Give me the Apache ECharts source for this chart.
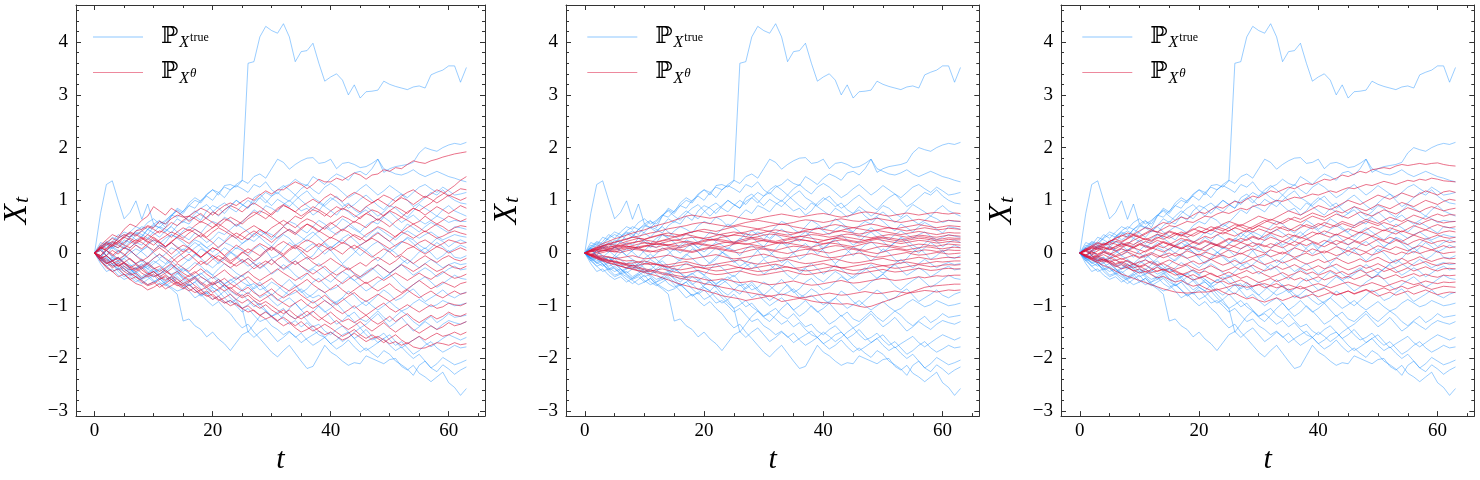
<!DOCTYPE html>
<html lang="en">
<head>
<meta charset="UTF-8">
<title>X_t paths</title>
<script src="https://cdn.jsdelivr.net/npm/echarts@6/dist/echarts.min.js"></script>
<style>
    html, body { margin: 0; padding: 0; background: #fff; }
    #main { width: 1480px; height: 480px; }
</style>
</head>
<body>
<div id="main"></div>
<script>
// time steps
var T = [0,1,2,3,4,5,6,7,8,9,10,11,12,13,14,15,16,17,18,19,20,21,22,23,24,25,26,27,28,29,30,31,
    32,33,34,35,36,37,38,39,40,41,42,43,44,45,46,47,48,49,50,51,52,53,54,55,56,57,58,59,60,61,62,63];

var xTicks = [0, 20, 40, 60];
var xMinorTicks = [0, 5, 10, 15, 20, 25, 30, 35, 40, 45, 50, 55, 60, 65];
var yTicks = [-3, -2, -1, 0, 1, 2, 3, 4];
var yMinorTicks = [-3,-2.8,-2.6,-2.4,-2.2,-2,-1.8,-1.6,-1.4,-1.2,-1,-0.8,-0.6,-0.4,-0.2,0,0.2,0.4,0.6,0.8,
    1,1.2,1.4,1.6,1.8,2,2.2,2.4,2.6,2.8,3,3.2,3.4,3.6,3.8,4,4.2,4.4,4.6];

// true paths (same in all three panels)
var trueX = [
    [0,.75,1.3,1.37,1,.65,.77,.99, .64,.93,.55,.62,.48,.7,.85,.78, .95,1.05,.98,1.12,1.2,1.1,1.28,1.3,
     1.25,1.37,3.6,3.63,4.1,4.3,4.22,4.17, 4.35,4.1,3.63,3.82,3.84,3.98,3.6,3.26, 3.34,3.4,3.28,3,3.19,2.94,3.06,3.07,
     3.09,3.26,3.2,3.16,3.13,3.1,3.15,3.17, 3.13,3.38,3.43,3.47,3.55,3.55,3.24,3.52],
    [0,.1,-.05,.12,.2,.15,.3,.38, .3,.45,.52,.48,.6,.72,.68,.8, .9,.85,1,1.08,1,1.15,1.25,1.2,
     1.3,1.38,1.32,1.45,1.5,1.42,1.6,1.78, 1.72,1.59,1.68,1.75,1.8,1.81,1.7,1.72, 1.78,1.6,1.7,1.72,1.68,1.62,1.64,1.7,
     1.78,1.53,1.6,1.64,1.66,1.68,1.72,1.9, 2,1.96,1.93,2,2.05,2.08,2.06,2.1],
    [0,-.1,.05,.15,.1,.25,.2,.35, .42,.35,.5,.6,.55,.7,.82,.75, .9,1,.95,1.1,1.2,1.15,1.05,1.2,
     1.28,1.22,1.15,1.3,1.25,1.35,1.2,1.12, 1.25,1.3,1.4,1.32,1.28,1.45,1.38,1.3, 1.42,1.5,1.45,1.38,1.52,1.55,1.48,1.6,
     1.78,1.6,1.55,1.5,1.48,1.52,1.58,1.5, 1.45,1.5,1.55,1.5,1.45,1.42,1.38,1.35],
    [0,.2,.15,.3,.25,.18,.32,.4, .35,.28,.4,.5,.45,.38,.52,.6, .55,.7,.62,.8,.9,.85,.75,.88,
     1,.92,.85,1.05,1.12,1,.9,1.02, .95,.88,1,1.1,1.18,1.05,.98,.9, 1,1.08,.95,.85,.92,1.02,1.1,1,
     .9,.82,.95,1.05,1.12,1,.88,.95, 1.05,1.15,1.1,1.2,1.08,1,.95,.93],
    [0,-.08,.05,.12,.05,-.05,.1,.2, .15,.28,.22,.1,.2,.35,.3,.42, .5,.45,.38,.52,.6,.55,.68,.62,
     .5,.58,.7,.82,.75,.9,.85,.78, .92,1,.9,.8,.85,.72,.8,.95, 1.05,.98,.88,.95,.82,.75,.88,.8,
     .7,.78,.9,.85,.75,.68,.8,.92, .85,.78,.7,.82,.9,.8,.75,.7],
    [0,.12,.22,.18,.3,.4,.35,.25, .32,.45,.38,.3,.42,.5,.4,.32, .25,.38,.3,.2,.28,.4,.35,.45,
     .55,.48,.4,.3,.42,.35,.25,.38, .5,.6,.55,.45,.38,.5,.62,.55, .45,.52,.65,.58,.48,.4,.52,.6,
     .55,.68,.6,.5,.42,.55,.48,.4, .5,.58,.52,.45,.38,.5,.48,.45],
    [0,-.1,-.18,-.12,-.2,-.1,0,.08, .02,-.08,.05,.15,.1,.2,.12,.05, .15,.25,.2,.1,.18,.3,.22,.35,
     .28,.18,.25,.38,.3,.2,.12,.25, .35,.28,.15,.22,.32,.4,.3,.2, .1,.18,.28,.35,.25,.15,.22,.32,
     .4,.3,.22,.12,.2,.3,.25,.15, .08,.18,.28,.22,.12,.2,.25,.2],
    [0,.05,.15,.08,.18,.1,.22,.15, .05,.12,0,-.1,-.02,.1,.05,-.08, -.15,-.05,.08,.02,-.1,-.2,-.12,0,
     .1,.05,-.05,.08,.15,.05,-.1,-.05, .08,.2,.12,0,-.12,-.05,.1,.18, .05,-.08,-.2,-.1,0,.12,.05,-.05,
     -.15,-.05,.08,0,-.12,-.2,-.1,.02, .1,0,-.12,-.05,.05,-.08,-.1,-.05],
    [0,-.15,-.1,-.22,-.3,-.25,-.35,-.28, -.2,-.3,-.38,-.32,-.22,-.15,-.25,-.35, -.28,-.18,-.25,-.35,-.42,-.3,-.2,-.28,
     -.38,-.45,-.35,-.25,-.18,-.28,-.4,-.32, -.22,-.3,-.42,-.5,-.4,-.3,-.38,-.48, -.55,-.45,-.35,-.42,-.52,-.45,-.35,-.28,
     -.38,-.48,-.4,-.3,-.22,-.32,-.42,-.35, -.28,-.35,-.45,-.38,-.3,-.25,-.32,-.3],
    [0,.08,-.05,-.15,-.08,-.2,-.3,-.4, -.48,-.42,-.35,-.45,-.55,-.5,-.4,-.3, -.38,-.5,-.6,-.52,-.45,-.55,-.65,-.58,
     -.5,-.42,-.55,-.68,-.6,-.72,-.8,-.7, -.6,-.5,-.62,-.75,-.68,-.55,-.48,-.6, -.7,-.65,-.55,-.45,-.52,-.62,-.72,-.65,
     -.55,-.48,-.4,-.5,-.62,-.7,-.6,-.52, -.45,-.55,-.65,-.58,-.5,-.42,-.48,-.5],
    [0,-.2,-.35,-.3,-.42,-.5,-.45,-.55, -.48,-.4,-.52,-.6,-.55,-.45,-.38,-.5, -.62,-.55,-.45,-.52,-.65,-.72,-.6,-.5,
     -.58,-.7,-.78,-.65,-.55,-.68,-.8,-.9, -.82,-.7,-.6,-.72,-.85,-.78,-.68,-.75, -.88,-.95,-.85,-.72,-.8,-.92,-1,-.9,
     -.8,-.7,-.78,-.9,-.85,-.75,-.68,-.8, -.92,-.85,-.78,-.7,-.8,-.85,-.78,-.74],
    [0,-.1,-.05,-.15,-.25,-.2,-.3,-.38, -.3,-.2,-.28,-.4,-.35,-.25,-.35,-.48, -.55,-.45,-.58,-.7,-.62,-.5,-.6,-.72,
     -.8,-.7,-.6,-.72,-.85,-.78,-.9,-1, -.92,-.85,-.95,-1.08,-1,-.9,-1.02,-1.12, -1.05,-.95,-1.08,-1.2,-1.12,-1.25,-1.3,-1.2,
     -1.1,-1.22,-1.3,-1.2,-1.1,-1.18,-1.3,-1.38, -1.28,-1.2,-1.32,-1.25,-1.15,-1.22,-1.2,-1.18],
    [0,-.1,-.2,-.15,-.28,-.35,-.3,-.42, -.5,-.45,-.55,-.48,-.6,-.68,-.78,-1.29, -1.25,-1.38,-1.45,-1.59,-1.5,-1.63,-1.72,-1.85,
     -1.7,-1.55,-1.49,-1.6,-1.5,-1.42,-1.55,-1.68, -1.6,-1.5,-1.58,-1.7,-1.62,-1.55,-1.48,-1.6, -1.72,-1.65,-1.55,-1.5,-1.62,-1.75,-1.85,-1.78,
     -1.7,-1.62,-1.55,-1.68,-1.8,-1.72,-1.65,-1.58, -1.7,-1.78,-1.7,-1.62,-1.55,-1.6,-1.65,-1.6],
    [0,-.15,-.25,-.2,-.35,-.45,-.4,-.5, -.58,-.5,-.42,-.55,-.62,-.55,-.48,-.6, -.72,-.85,-.78,-.9,-1,-.92,-1.05,-1.15,
     -1.3,-1.42,-1.35,-1.5,-1.62,-1.75,-1.88,-1.97, -1.85,-1.75,-1.9,-2.05,-2.19,-2.15,-1.95,-1.75, -1.88,-1.95,-2.05,-2.13,-2.08,-2.1,-1.95,-2,
     -2.05,-2.1,-2.02,-2,-2.15,-2.22,-2.13,-2.28, -2.35,-2.44,-2.35,-2.26,-2.46,-2.55,-2.7,-2.57],
    [0,.05,-.05,-.12,-.08,-.18,-.25,-.2, -.15,-.25,-.35,-.3,-.4,-.5,-.45,-.55, -.62,-.55,-.68,-.78,-.7,-.82,-.95,-.9,
     -1,-1.12,-1.05,-1.18,-1.3,-1.25,-1.38,-1.45, -1.55,-1.48,-1.6,-1.52,-1.65,-1.75,-1.68,-1.6, -1.72,-1.82,-1.75,-1.65,-1.78,-1.88,-1.8,-1.9,
     -1.98,-1.85,-1.92,-2.05,-2.12,-2.2,-2.32,-2.13, -2.05,-2.18,-2.1,-1.98,-2.05,-2.12,-2.08,-2.03],
    [0,-.12,-.08,-.2,-.32,-.28,-.4,-.35, -.45,-.38,-.3,-.42,-.5,-.45,-.58,-.65, -.58,-.7,-.8,-.75,-.88,-.82,-.72,-.85,
     -.95,-1.05,-.98,-.9,-1.02,-1.1,-1.2,-1.12, -1.05,-1.18,-1.25,-1.15,-1.28,-1.4,-1.35,-1.48, -1.55,-1.45,-1.38,-1.5,-1.62,-1.55,-1.45,-1.58,
     -1.7,-1.62,-1.75,-1.85,-1.78,-1.9,-2,-1.92, -2.05,-2.18,-2.25,-2.12,-2.2,-2.3,-2.22,-2.16],
    [0,.1,.05,-.05,-.15,-.1,-.22,-.3, -.25,-.35,-.45,-.4,-.3,-.22,-.32,-.42, -.5,-.45,-.38,-.48,-.6,-.55,-.65,-.78,
     -.9,-1.05,-1.5,-1.35,-1.2,-1.1,-1.22,-1.3, -1.18,-1.05,-.95,-1.08,-1.2,-1.12,-1,-1.1, -1.22,-1.35,-1.28,-1.18,-1.3,-1.42,-1.35,-1.25,
     -1.15,-1.28,-1.4,-1.32,-1.22,-1.35,-1.48,-1.4, -1.3,-1.38,-1.45,-1.35,-1.28,-1.32,-1.35,-1.3],
    [0,-.08,-.18,-.25,-.18,-.3,-.38,-.45, -.52,-.6,-.55,-.48,-.58,-.65,-.72,-.68, -.6,-.7,-.82,-.75,-.65,-.72,-.85,-.95,
     -.88,-.78,-.9,-1.02,-.95,-1.08,-1.2,-1.15, -1.25,-1.35,-1.28,-1.4,-1.32,-1.45,-1.55,-1.6, -1.5,-1.58,-1.68,-1.6,-1.5,-1.42,-1.55,-1.65,
     -1.6,-1.52,-1.65,-1.75,-1.68,-1.8,-1.92,-1.85, -1.75,-1.68,-1.8,-1.88,-1.82,-1.75,-1.8,-1.78],
    [0,.1,.2,.15,.28,.35,.3,.42, .5,.45,.55,.48,.4,.52,.65,.58, .7,.8,.72,.65,.78,.88,.95,.85,
     .78,.9,1,.92,1.05,1.15,1.08,1.2, 1.28,1.2,1.1,1.22,1.3,1.2,1.12,1.25, 1.32,1.25,1.15,1.05,1.12,1.22,1.3,1.2,
     1.1,1.18,1.28,1.2,1.12,1.05,1.15,1.25, 1.3,1.22,1.15,1.25,1.18,1.1,1.12,1.15],
    [0,-.05,-.15,-.08,.02,.1,.05,-.05, -.12,-.2,-.1,-.02,-.12,-.22,-.3,-.22, -.12,-.02,-.1,-.2,-.28,-.18,-.08,.02,
     -.05,-.15,-.25,-.18,-.08,.05,.12,.02, -.08,-.18,-.1,0,.1,.18,.08,-.02, .08,.18,.25,.15,.05,-.05,.05,.15,
     .22,.12,.02,.1,.2,.28,.18,.08, 0,.1,.2,.12,.02,.08,.15,.1],
    [0,.15,.1,.22,.35,.28,.4,.5, .45,.58,.65,.55,.62,.72,.8,.7, .62,.75,.85,.92,.8,.7,.82,.9,
     1,.92,.85,.98,1.05,.95,1.08,1.15, 1.05,.98,1.1,1,.9,.82,.95,.88, .8,.72,.85,.78,.68,.75,.82,.7,
     .62,.7,.78,.68,.58,.65,.72,.62, .55,.62,.7,.65,.58,.62,.6,.6],
    [0,-.05,.05,-.08,-.15,-.05,-.12,-.22, -.3,-.25,-.15,-.22,-.32,-.4,-.35,-.28, -.38,-.45,-.4,-.32,-.42,-.5,-.58,-.52,
     -.45,-.55,-.62,-.58,-.7,-.65,-.55,-.62, -.72,-.8,-.75,-.68,-.78,-.85,-.8,-.9, -.98,-.92,-.85,-.95,-1.05,-.98,-.9,-1,
     -1.08,-1,-.92,-1.02,-1.1,-1.05,-.95,-.88, -.95,-1.02,-.98,-.9,-.95,-1,-.98,-.95],
    [0,-.12,-.25,-.35,-.3,-.42,-.38,-.3, -.22,-.3,-.2,-.12,-.2,-.1,-.02,.08, 0,.1,.18,.1,.02,.12,.2,.15,
     .08,.18,.28,.22,.32,.4,.35,.28, .38,.45,.38,.3,.22,.32,.42,.5, .42,.35,.45,.52,.45,.38,.3,.4,
     .48,.4,.32,.25,.35,.42,.35,.28, .35,.4,.32,.25,.3,.35,.32,.3],
    [0,.08,.18,.1,.02,.12,.05,-.05, .05,.15,.25,.18,.28,.35,.28,.2, .1,.2,.12,.02,-.08,0,.1,.02,
     -.08,-.18,-.1,-.2,-.3,-.22,-.12,-.22, -.32,-.25,-.15,-.25,-.35,-.28,-.2,-.3, -.4,-.32,-.22,-.3,-.4,-.48,-.4,-.32,
     -.22,-.3,-.38,-.3,-.2,-.12,-.2,-.28, -.2,-.12,-.2,-.28,-.22,-.18,-.22,-.2]
];

// model paths, left panel
var modelX1 = [
    [0,.12,.2,.15,.28,.35,.3,.42, .45,.52,.48,.6,.55,.65,.72,.68, .7,.78,.85,.8,.72,.82,.9,.95,
     .9,.98,1.05,1,1.1,1.18,1.12,1.2, 1.2,1.28,1.35,1.3,1.22,1.3,1.4,1.35, 1.35,1.42,1.38,1.45,1.52,1.48,1.4,1.48,
     1.5,1.58,1.55,1.62,1.6,1.68,1.75,1.72, 1.7,1.75,1.78,1.82,1.85,1.88,1.9,1.92],
    [0,.08,.15,.22,.18,.3,.38,.32, .42,.5,.45,.38,.48,.58,.52,.62, .7,.65,.58,.68,.78,.72,.82,.9,
     .85,.78,.88,.95,.88,.8,.72,.82, .9,.85,.78,.7,.78,.88,.82,.75, .68,.78,.85,.8,.72,.65,.75,.82,
     .78,.7,.8,.88,.82,.75,.85,.8, .88,.95,1.05,1.12,1.2,1.28,1.38,1.45],
    [0,-.05,.08,.15,.1,.2,.28,.22, .3,.25,.35,.42,.38,.3,.4,.48, .42,.52,.6,.55,.48,.58,.65,.6,
     .52,.6,.7,.78,.72,.65,.75,.85, .92,.85,.78,.88,.95,1.02,.95,1.05, 1.12,1.05,.98,1.08,1.15,1.1,1.02,.95,
     1.02,1.1,1.05,.98,1.08,1.15,1.2,1.12, 1.05,1.12,1.2,1.15,1.08,1.15,1.22,1.2],
    [0,.15,.25,.35,.3,.45,.55,.5, .62,.7,.88,.8,.72,.85,.78,.7, .6,.68,.75,.65,.58,.5,.6,.68,
     .62,.55,.65,.72,.8,.75,.68,.6, .52,.6,.7,.65,.75,.82,.78,.7, .8,.88,.82,.92,.85,.78,.88,.95,
     1.02,.95,.88,.98,1.05,1,.92,1, 1.08,1.02,.95,1.02,1.1,1.05,1,1.05],
    [0,.1,.05,.15,.22,.15,.1,.2, .28,.22,.15,.25,.32,.4,.35,.28, .38,.45,.38,.3,.4,.48,.42,.35,
     .28,.38,.45,.52,.45,.38,.48,.55, .62,.55,.48,.58,.65,.6,.52,.45, .55,.62,.7,.65,.58,.68,.75,.7,
     .62,.72,.8,.75,.68,.78,.85,.8, .72,.8,.88,.82,.75,.82,.9,.85],
    [0,-.1,-.05,.05,-.02,.1,.05,.15, .08,.18,.25,.2,.12,.2,.3,.25, .18,.28,.35,.28,.2,.1,.2,.3,
     .38,.32,.25,.35,.45,.38,.3,.4, .5,.42,.35,.45,.55,.48,.4,.5, .58,.5,.42,.52,.6,.55,.48,.58,
     .65,.58,.5,.6,.68,.62,.55,.6, .7,.62,.55,.62,.7,.65,.6,.65],
    [0,.08,.18,.12,.22,.3,.25,.18, .25,.35,.28,.2,.12,.22,.3,.38, .45,.38,.3,.4,.48,.55,.48,.4,
     .32,.25,.35,.42,.35,.28,.2,.3, .38,.45,.38,.48,.55,.5,.42,.35, .28,.38,.45,.4,.32,.25,.35,.42,
     .5,.45,.38,.3,.4,.48,.55,.48, .4,.48,.55,.5,.42,.48,.52,.5],
    [0,-.12,-.2,-.15,-.25,-.18,-.1,-.2, -.28,-.2,-.1,-.02,-.1,-.18,-.08,0, .08,0,-.08,.02,.1,.05,-.05,.05,
     .15,.08,0,.1,.18,.12,.05,.15, .22,.15,.08,.18,.25,.2,.12,.22, .3,.25,.18,.28,.35,.3,.22,.3,
     .38,.3,.22,.32,.4,.35,.28,.35, .42,.35,.28,.32,.38,.42,.38,.35],
    [0,-.08,-.18,-.28,-.22,-.35,-.42,-.38, -.48,-.42,-.35,-.45,-.38,-.3,-.2,-.28, -.35,-.25,-.15,-.22,-.12,-.05,-.12,-.2,
     -.1,0,.08,.02,-.05,.05,.12,.05, -.02,.08,.15,.1,.02,.1,.18,.12, .05,.12,.2,.15,.08,.15,.22,.28,
     .22,.15,.08,.15,.22,.18,.12,.2, .25,.18,.12,.18,.25,.22,.18,.2],
    [0,.12,.08,.2,.15,.08,.18,.25, .2,.12,.05,.15,.08,-.02,.08,.15, .1,.02,-.08,0,.1,.05,-.05,-.15,
     -.08,.02,-.05,-.15,-.08,.02,.1,.02, -.05,.05,.12,.05,-.05,-.12,-.05,.05, .12,.05,-.02,.08,.15,.08,0,-.08,
     0,.08,.02,-.08,-.02,.08,.12,.05, -.02,.05,.12,.08,0,.05,.1,.05],
    [0,-.05,.05,-.02,-.12,-.05,.05,-.05, -.15,-.08,.02,.1,.02,-.08,-.18,-.1, -.02,-.12,-.22,-.15,-.05,-.12,-.2,-.28,
     -.2,-.12,-.2,-.3,-.22,-.15,-.22,-.12, -.05,-.15,-.22,-.15,-.08,-.18,-.25,-.18, -.1,-.18,-.25,-.32,-.25,-.18,-.25,-.15,
     -.08,-.15,-.22,-.15,-.05,-.12,-.2,-.12, -.05,-.12,-.18,-.1,-.05,-.12,-.15,-.1],
    [0,.1,.2,.28,.22,.32,.4,.35, .28,.2,.3,.22,.12,.2,.1,.02, .1,0,-.08,.02,-.05,-.15,-.08,-.18,
     -.25,-.18,-.1,-.2,-.28,-.2,-.12,-.22, -.3,-.22,-.15,-.25,-.32,-.4,-.32,-.25, -.35,-.42,-.35,-.28,-.38,-.45,-.38,-.3,
     -.22,-.3,-.38,-.3,-.22,-.28,-.35,-.28, -.2,-.28,-.35,-.3,-.22,-.28,-.3,-.25],
    [0,-.1,-.2,-.15,-.08,-.18,-.25,-.32, -.25,-.18,-.28,-.35,-.28,-.2,-.3,-.38, -.45,-.38,-.3,-.4,-.48,-.4,-.32,-.42,
     -.5,-.42,-.35,-.45,-.52,-.45,-.38,-.3, -.38,-.45,-.52,-.45,-.38,-.48,-.55,-.48, -.4,-.5,-.58,-.5,-.42,-.5,-.58,-.52,
     -.45,-.52,-.45,-.38,-.45,-.52,-.45,-.38, -.45,-.5,-.42,-.35,-.42,-.48,-.45,-.4],
    [0,.05,-.05,-.15,-.1,-.2,-.28,-.22, -.32,-.4,-.35,-.45,-.52,-.45,-.55,-.62, -.55,-.48,-.58,-.65,-.58,-.5,-.6,-.68,
     -.6,-.52,-.45,-.55,-.62,-.55,-.48,-.58, -.65,-.72,-.65,-.58,-.5,-.6,-.68,-.75, -.68,-.6,-.7,-.78,-.7,-.62,-.55,-.65,
     -.72,-.65,-.58,-.68,-.75,-.68,-.6,-.52, -.6,-.68,-.62,-.55,-.6,-.65,-.58,-.55],
    [0,-.15,-.25,-.35,-.3,-.4,-.5,-.45, -.55,-.62,-.58,-.5,-.42,-.5,-.58,-.5, -.42,-.35,-.45,-.52,-.6,-.55,-.48,-.58,
     -.65,-.72,-.65,-.75,-.82,-.75,-.68,-.78, -.85,-.78,-.7,-.8,-.88,-.95,-.88,-.8, -.9,-.98,-.9,-.82,-.75,-.85,-.92,-.85,
     -.78,-.85,-.92,-.85,-.78,-.7,-.78,-.85, -.78,-.72,-.8,-.85,-.78,-.72,-.78,-.75],
    [0,.1,.05,-.05,.05,-.02,-.12,-.2, -.12,-.22,-.3,-.25,-.35,-.42,-.35,-.45, -.52,-.45,-.55,-.62,-.55,-.65,-.72,-.65,
     -.75,-.82,-.75,-.85,-.92,-.85,-.78,-.88, -.95,-1.02,-.95,-.88,-.98,-1.05,-.98,-.9, -.98,-1.08,-1.15,-1.08,-1,-1.1,-1.18,-1.1,
     -1.02,-.95,-1.05,-1.12,-1.05,-.98,-1.05,-1.12, -1.05,-.98,-1.05,-1.02,-.95,-.98,-1,-.95],
    [0,-.08,-.15,-.25,-.2,-.3,-.38,-.45, -.52,-.6,-.55,-.65,-.58,-.5,-.6,-.68, -.6,-.7,-.78,-.72,-.82,-.9,-.85,-.78,
     -.88,-.95,-.88,-.98,-1.05,-.98,-1.08,-1.15, -1.08,-1.18,-1.25,-1.18,-1.1,-1.2,-1.28,-1.2, -1.12,-1.22,-1.3,-1.25,-1.32,-1.25,-1.18,-1.28,
     -1.35,-1.28,-1.2,-1.3,-1.22,-1.15,-1.25,-1.32, -1.25,-1.18,-1.25,-1.2,-1.12,-1.18,-1.2,-1.15],
    [0,-.1,-.05,-.15,-.25,-.18,-.28,-.35, -.28,-.38,-.45,-.4,-.32,-.42,-.5,-.58, -.52,-.62,-.7,-.65,-.75,-.68,-.6,-.7,
     -.78,-.85,-.8,-.9,-.98,-.92,-1,-1.08, -1.15,-1.08,-1.18,-1.25,-1.18,-1.1,-1.2,-1.28, -1.35,-1.28,-1.38,-1.45,-1.38,-1.3,-1.4,-1.48,
     -1.4,-1.32,-1.42,-1.5,-1.42,-1.35,-1.45,-1.52, -1.45,-1.38,-1.45,-1.4,-1.32,-1.38,-1.35,-1.3],
    [0,-.15,-.28,-.35,-.45,-.4,-.5,-.58, -.62,-.7,-.65,-.58,-.68,-.62,-.55,-.65, -.72,-.65,-.75,-.82,-.78,-.88,-.95,-.9,
     -.98,-1.05,-1,-1.1,-1.18,-1.12,-1.2,-1.28, -1.22,-1.3,-1.38,-1.3,-1.4,-1.48,-1.42,-1.35, -1.42,-1.5,-1.58,-1.52,-1.45,-1.55,-1.62,-1.55,
     -1.62,-1.7,-1.62,-1.55,-1.65,-1.72,-1.65,-1.58, -1.65,-1.58,-1.52,-1.58,-1.55,-1.5,-1.55,-1.5],
    [0,-.05,-.12,-.2,-.15,-.25,-.32,-.28, -.38,-.45,-.4,-.5,-.45,-.55,-.62,-.58, -.68,-.75,-.7,-.8,-.88,-.82,-.92,-1,
     -.95,-1.05,-1.12,-1.08,-1.18,-1.25,-1.2,-1.3, -1.38,-1.32,-1.42,-1.5,-1.45,-1.38,-1.48,-1.55, -1.5,-1.58,-1.65,-1.6,-1.52,-1.6,-1.68,-1.62,
     -1.58,-1.65,-1.72,-1.68,-1.75,-1.7,-1.78,-1.81, -1.8,-1.75,-1.7,-1.72,-1.75,-1.7,-1.74,-1.72]
];

// model paths, middle panel
var modelX2 = [
    [0,.06,.12,.18,.22,.27,.3,.34, .38,.41,.44,.48,.52,.55,.58,.62, .66,.7,.72,.7,.68,.66,.68,.7,
     .72,.7,.67,.65,.63,.65,.68,.7, .72,.74,.72,.7,.68,.7,.72,.74, .75,.73,.7,.68,.7,.73,.76,.78,
     .77,.75,.72,.7,.72,.74,.76,.74, .72,.74,.76,.77,.75,.74,.76,.75],
    [0,.04,.09,.13,.16,.2,.23,.26, .3,.32,.35,.38,.4,.43,.46,.48, .5,.52,.55,.57,.58,.56,.54,.52,
     .5,.52,.55,.58,.6,.62,.6,.58, .56,.54,.56,.58,.61,.63,.62,.6, .58,.6,.63,.65,.63,.61,.6,.62,
     .64,.66,.64,.62,.6,.58,.6,.62, .64,.62,.6,.58,.6,.62,.61,.6],
    [0,.05,.08,.12,.1,.14,.18,.22, .25,.28,.26,.3,.33,.36,.38,.36, .34,.37,.4,.43,.45,.43,.41,.44,
     .47,.5,.52,.5,.48,.46,.48,.51, .53,.55,.53,.5,.48,.46,.44,.46, .49,.52,.54,.52,.5,.48,.5,.53,
     .55,.53,.5,.48,.46,.48,.5,.52, .54,.52,.5,.48,.5,.52,.51,.5],
    [0,.03,.07,.1,.13,.12,.15,.18, .2,.22,.25,.23,.21,.24,.27,.3, .32,.35,.33,.3,.28,.3,.33,.36,
     .38,.4,.38,.36,.34,.36,.39,.42, .44,.42,.4,.38,.4,.43,.45,.47, .45,.43,.41,.43,.46,.48,.46,.44,
     .42,.44,.46,.48,.46,.44,.42,.44, .46,.48,.46,.44,.45,.47,.46,.45],
    [0,.06,.1,.14,.18,.21,.24,.27, .3,.28,.26,.29,.32,.35,.33,.31, .34,.37,.4,.42,.4,.38,.36,.34,
     .32,.35,.38,.4,.43,.45,.43,.41, .38,.36,.34,.36,.39,.41,.39,.37, .35,.37,.4,.42,.4,.38,.36,.38,
     .41,.43,.41,.39,.37,.35,.37,.39, .41,.39,.37,.35,.37,.39,.38,.38],
    [0,.02,.05,.04,.07,.1,.12,.11, .14,.17,.19,.18,.2,.23,.25,.24, .26,.28,.3,.29,.27,.25,.27,.3,
     .32,.34,.33,.31,.29,.31,.34,.36, .35,.33,.31,.29,.31,.33,.35,.34, .32,.3,.32,.34,.36,.35,.33,.31,
     .29,.31,.33,.35,.34,.32,.3,.32, .34,.33,.31,.3,.32,.34,.33,.32],
    [0,.04,.02,.05,.08,.07,.1,.13, .12,.1,.13,.16,.18,.17,.15,.18, .2,.22,.21,.19,.22,.24,.26,.25,
     .23,.21,.24,.27,.29,.28,.26,.24, .22,.25,.27,.3,.32,.3,.28,.26, .24,.26,.29,.31,.3,.28,.26,.24,
     .26,.28,.3,.29,.27,.25,.27,.29, .31,.3,.28,.26,.27,.29,.28,.28],
    [0,.05,.1,.14,.17,.15,.13,.16, .19,.22,.2,.18,.16,.19,.22,.25, .23,.2,.18,.21,.24,.26,.24,.22,
     .2,.18,.21,.24,.27,.25,.23,.21, .19,.22,.25,.27,.26,.24,.22,.2, .23,.26,.28,.27,.25,.23,.21,.24,
     .27,.29,.28,.26,.24,.22,.24,.26, .28,.27,.25,.23,.24,.26,.25,.25],
    [0,-.02,.01,.04,.06,.05,.08,.1, .09,.12,.14,.13,.11,.14,.16,.15, .13,.16,.18,.17,.15,.13,.16,.19,
     .21,.2,.18,.16,.19,.22,.24,.22, .2,.18,.2,.23,.25,.24,.22,.2, .18,.2,.23,.25,.23,.21,.19,.21,
     .24,.26,.24,.22,.2,.18,.2,.22, .24,.23,.21,.19,.2,.22,.21,.2],
    [0,.03,.06,.09,.08,.11,.14,.13, .11,.09,.12,.15,.17,.16,.14,.12, .1,.13,.16,.18,.17,.15,.13,.11,
     .14,.17,.19,.18,.16,.14,.12,.15, .18,.2,.19,.17,.15,.13,.11,.14, .17,.19,.18,.16,.14,.12,.15,.18,
     .2,.19,.17,.15,.13,.11,.13,.15, .17,.16,.14,.13,.15,.17,.16,.15],
    [0,-.04,-.02,.01,.04,.03,.01,.04, .07,.06,.04,.02,.05,.08,.1,.09, .07,.05,.03,.06,.09,.11,.1,.08,
     .06,.04,.07,.1,.12,.11,.09,.07, .05,.08,.11,.13,.12,.1,.08,.06, .09,.12,.14,.13,.11,.09,.07,.05,
     .08,.11,.13,.12,.1,.08,.06,.08, .1,.12,.11,.09,.08,.1,.11,.1],
    [0,.04,.07,.06,.04,.02,.05,.08, .1,.08,.06,.04,.02,.05,.08,.07, .05,.03,.01,.04,.07,.09,.08,.06,
     .04,.02,0,.03,.06,.08,.07,.05, .03,.01,-.01,.02,.05,.07,.06,.04, .02,0,.03,.06,.08,.07,.05,.03,
     .01,-.01,.02,.05,.07,.06,.04,.02, .04,.06,.05,.03,.04,.06,.05,.05],
    [0,-.03,-.06,-.05,-.08,-.1,-.09,-.07, -.05,-.08,-.11,-.1,-.08,-.06,-.04,-.07, -.1,-.12,-.11,-.09,-.07,-.05,-.03,-.06,
     -.09,-.11,-.1,-.08,-.06,-.04,-.02,-.05, -.08,-.1,-.09,-.07,-.05,-.03,-.01,-.04, -.07,-.09,-.08,-.06,-.04,-.02,0,-.03,
     -.06,-.08,-.07,-.05,-.03,-.01,.01,-.02, -.04,-.03,-.01,.01,0,-.02,-.01,0],
    [0,-.05,-.09,-.13,-.16,-.15,-.18,-.2, -.19,-.17,-.15,-.18,-.21,-.23,-.22,-.2, -.18,-.16,-.19,-.22,-.24,-.23,-.21,-.19,
     -.17,-.15,-.13,-.16,-.19,-.21,-.2,-.18, -.16,-.14,-.12,-.15,-.18,-.2,-.19,-.17, -.15,-.13,-.11,-.14,-.17,-.19,-.18,-.16,
     -.14,-.12,-.1,-.13,-.15,-.14,-.12,-.1, -.08,-.1,-.12,-.11,-.09,-.08,-.09,-.08],
    [0,-.02,-.05,-.08,-.07,-.1,-.13,-.15, -.14,-.17,-.2,-.22,-.21,-.24,-.26,-.25, -.23,-.21,-.24,-.27,-.29,-.28,-.26,-.24,
     -.22,-.25,-.28,-.3,-.29,-.27,-.25,-.23, -.21,-.24,-.27,-.29,-.28,-.26,-.24,-.22, -.2,-.23,-.26,-.28,-.27,-.25,-.23,-.21,
     -.19,-.22,-.24,-.23,-.21,-.19,-.17,-.19, -.21,-.2,-.18,-.16,-.17,-.16,-.15,-.15],
    [0,-.04,-.08,-.11,-.14,-.17,-.19,-.22, -.24,-.23,-.21,-.19,-.22,-.25,-.27,-.3, -.32,-.3,-.28,-.26,-.29,-.32,-.34,-.33,
     -.31,-.29,-.27,-.3,-.33,-.35,-.34,-.32, -.3,-.28,-.26,-.29,-.32,-.34,-.33,-.31, -.29,-.27,-.25,-.28,-.31,-.33,-.32,-.3,
     -.28,-.26,-.24,-.27,-.29,-.28,-.26,-.24, -.22,-.24,-.26,-.25,-.23,-.22,-.23,-.22],
    [0,-.06,-.11,-.15,-.19,-.22,-.25,-.28, -.3,-.33,-.35,-.34,-.32,-.3,-.33,-.36, -.38,-.37,-.35,-.33,-.36,-.39,-.41,-.4,
     -.38,-.36,-.34,-.37,-.4,-.42,-.41,-.39, -.37,-.35,-.33,-.36,-.39,-.41,-.4,-.38, -.36,-.34,-.32,-.35,-.38,-.4,-.39,-.37,
     -.35,-.33,-.31,-.34,-.36,-.35,-.33,-.31, -.29,-.31,-.33,-.32,-.3,-.29,-.3,-.3],
    [0,-.05,-.1,-.14,-.18,-.21,-.25,-.28, -.31,-.34,-.37,-.4,-.43,-.47,-.51,-.55, -.59,-.62,-.65,-.68,-.71,-.74,-.77,-.81,
     -.83,-.85,-.87,-.9,-.88,-.86,-.84,-.81, -.86,-.92,-.9,-.88,-.86,-.88,-.91,-.93, -.94,-.95,-.96,-.97,-.96,-.98,-1.01,-1.03,
     -1.01,-.97,-.93,-.89,-.85,-.81,-.77,-.73, -.69,-.65,-.63,-.62,-.61,-.6,-.59,-.59],
    [0,-.03,-.07,-.1,-.13,-.16,-.19,-.22, -.24,-.27,-.3,-.32,-.35,-.37,-.4,-.42, -.44,-.46,-.45,-.47,-.5,-.52,-.51,-.49,
     -.51,-.54,-.56,-.55,-.53,-.55,-.58,-.6, -.59,-.57,-.55,-.53,-.56,-.59,-.61,-.6, -.58,-.56,-.54,-.52,-.55,-.57,-.56,-.54,
     -.52,-.5,-.48,-.5,-.52,-.51,-.49,-.47, -.45,-.47,-.45,-.43,-.44,-.43,-.42,-.42],
    [0,-.04,-.08,-.12,-.15,-.18,-.21,-.24, -.27,-.29,-.32,-.35,-.37,-.4,-.42,-.45, -.48,-.5,-.53,-.55,-.58,-.6,-.62,-.65,
     -.67,-.69,-.72,-.74,-.76,-.78,-.8,-.82, -.8,-.78,-.8,-.83,-.85,-.84,-.82,-.8, -.78,-.76,-.78,-.8,-.79,-.77,-.75,-.73,
     -.75,-.77,-.76,-.74,-.72,-.74,-.76,-.75, -.73,-.71,-.72,-.74,-.72,-.7,-.71,-.7]
];

// model paths, right panel
var modelX3 = [
    [0,.06,.12,.18,.15,.22,.28,.32, .38,.35,.42,.48,.45,.52,.58,.55, .62,.68,.65,.72,.78,.75,.82,.88,
     .85,.92,.98,.95,1.02,1.08,1.05,1.12, 1.18,1.15,1.2,1.25,1.22,1.28,1.32,1.3, 1.35,1.4,1.38,1.42,1.48,1.45,1.5,1.55,
     1.52,1.58,1.6,1.62,1.6,1.65,1.68,1.66, 1.68,1.7,1.68,1.7,1.71,1.68,1.66,1.65],
    [0,.08,.05,.12,.18,.15,.22,.2, .27,.33,.3,.36,.42,.4,.46,.52, .5,.55,.6,.58,.64,.7,.68,.74,
     .78,.75,.8,.85,.82,.88,.92,.9, .95,1,.98,1.02,1.06,1.04,1.08,1.12, 1.1,1.14,1.18,1.15,1.2,1.24,1.22,1.26,
     1.3,1.28,1.32,1.36,1.33,1.3,1.34,1.38, 1.36,1.4,1.38,1.42,1.4,1.37,1.36,1.35],
    [0,.05,.1,.08,.14,.2,.17,.12, .18,.24,.3,.26,.22,.28,.34,.4, .36,.32,.38,.44,.5,.46,.42,.48,
     .55,.6,.56,.52,.58,.64,.7,.66, .62,.68,.74,.8,.76,.72,.78,.84, .9,.86,.82,.88,.94,1,.96,.92,
     .98,1.04,1.1,1.06,1.02,1.08,1.14,1.1, 1.06,1.12,1.18,1.14,1.1,1.16,1.18,1.15],
    [0,-.04,.03,.09,.06,.12,.08,.15, .2,.16,.22,.28,.24,.3,.26,.32, .38,.34,.3,.36,.42,.38,.44,.5,
     .46,.42,.48,.54,.5,.46,.52,.58, .64,.6,.56,.62,.68,.64,.7,.76, .72,.68,.74,.8,.76,.82,.88,.84,
     .8,.86,.92,.88,.84,.9,.96,.92, .88,.94,1,.96,.92,.98,1.02,1],
    [0,.07,.13,.1,.16,.22,.26,.22, .28,.34,.3,.25,.3,.36,.32,.28, .34,.4,.36,.32,.38,.44,.5,.46,
     .42,.48,.54,.5,.45,.5,.56,.62, .58,.54,.6,.66,.62,.58,.64,.7, .66,.62,.68,.74,.7,.66,.72,.78,
     .74,.7,.76,.82,.78,.74,.8,.86, .82,.78,.84,.88,.84,.8,.83,.85],
    [0,.03,-.02,.04,.1,.07,.13,.18, .14,.1,.16,.22,.18,.24,.2,.16, .22,.28,.24,.2,.26,.32,.28,.34,
     .4,.36,.32,.38,.44,.4,.46,.42, .38,.44,.5,.46,.42,.48,.54,.5, .56,.52,.48,.54,.6,.56,.52,.58,
     .64,.6,.56,.62,.68,.64,.6,.66, .72,.68,.64,.7,.74,.7,.73,.72],
    [0,.08,.14,.2,.16,.22,.28,.34, .3,.36,.32,.38,.44,.4,.36,.42, .38,.34,.4,.46,.42,.38,.44,.4,
     .36,.42,.48,.44,.4,.46,.52,.48, .44,.5,.46,.42,.48,.54,.5,.46, .52,.58,.54,.5,.56,.52,.48,.54,
     .6,.56,.52,.58,.54,.5,.56,.62, .58,.54,.6,.64,.6,.57,.59,.6],
    [0,-.06,-.1,-.05,.01,-.03,.03,.08, .04,.1,.06,.02,.08,.14,.1,.16, .12,.08,.14,.2,.16,.22,.18,.14,
     .2,.26,.22,.28,.24,.3,.26,.32, .38,.34,.3,.36,.32,.28,.34,.4, .36,.42,.38,.34,.4,.46,.42,.38,
     .44,.5,.46,.42,.48,.44,.4,.46, .52,.48,.44,.5,.54,.5,.48,.5],
    [0,.05,.1,.06,.12,.08,.04,.1, .16,.12,.18,.14,.1,.16,.22,.18, .14,.2,.26,.22,.18,.24,.2,.16,
     .22,.28,.24,.2,.26,.32,.28,.24, .3,.26,.22,.28,.34,.3,.26,.32, .38,.34,.3,.36,.32,.28,.34,.4,
     .36,.32,.38,.44,.4,.36,.42,.38, .34,.4,.44,.4,.36,.4,.42,.4],
    [0,-.04,.02,-.02,.04,0,-.05,.01, .06,.02,-.02,.04,.1,.06,.02,.08, .14,.1,.06,.12,.08,.04,.1,.16,
     .12,.08,.14,.2,.16,.12,.18,.14, .1,.16,.22,.18,.14,.2,.26,.22, .18,.24,.2,.16,.22,.28,.24,.2,
     .26,.32,.28,.24,.3,.26,.22,.28, .34,.3,.26,.3,.34,.3,.28,.3],
    [0,.04,.09,.14,.1,.06,.12,.18, .14,.1,.16,.12,.08,.14,.2,.16, .12,.08,.14,.1,.06,.12,.18,.14,
     .1,.16,.12,.08,.14,.2,.16,.12, .18,.14,.1,.16,.22,.18,.14,.2, .16,.12,.18,.24,.2,.16,.22,.18,
     .14,.2,.26,.22,.18,.24,.2,.16, .22,.26,.22,.18,.22,.24,.2,.22],
    [0,-.06,-.12,-.08,-.14,-.1,-.06,-.12, -.08,-.04,-.1,-.06,-.02,-.08,-.04,0, -.06,-.02,.04,0,-.04,.02,-.02,-.06,
     0,.06,.02,-.02,.04,.08,.04,0, .06,.02,-.02,.04,.1,.06,.02,.08, .04,0,.06,.12,.08,.04,.1,.06,
     .02,.08,.14,.1,.06,.12,.08,.04, .1,.14,.1,.06,.1,.14,.1,.12],
    [0,.05,.02,-.03,.02,-.02,-.07,-.03, .02,-.03,-.08,-.04,.01,-.04,-.09,-.05, 0,-.05,-.1,-.06,-.02,-.07,-.12,-.08,
     -.04,-.09,-.05,0,-.05,-.1,-.06,-.02, -.07,-.03,.02,-.03,-.08,-.04,0,-.05, -.01,.04,0,-.05,-.01,.04,0,-.04,
     .01,-.04,0,.05,.01,-.03,.02,-.02, .03,-.01,.03,.06,.02,-.01,.01,.02],
    [0,-.05,-.1,-.15,-.11,-.17,-.22,-.18, -.14,-.2,-.25,-.21,-.16,-.22,-.18,-.13, -.19,-.24,-.2,-.15,-.21,-.17,-.12,-.18,
     -.23,-.19,-.14,-.2,-.16,-.11,-.17,-.22, -.18,-.13,-.19,-.15,-.1,-.16,-.21,-.17, -.12,-.18,-.14,-.09,-.15,-.2,-.16,-.11,
     -.17,-.13,-.08,-.14,-.19,-.15,-.1,-.16, -.12,-.07,-.12,-.16,-.12,-.09,-.11,-.1],
    [0,.04,-.02,-.07,-.03,-.09,-.14,-.1, -.16,-.21,-.17,-.13,-.19,-.24,-.2,-.26, -.31,-.27,-.22,-.28,-.33,-.29,-.24,-.3,
     -.35,-.31,-.26,-.32,-.28,-.23,-.29,-.34, -.3,-.25,-.31,-.27,-.22,-.28,-.33,-.29, -.24,-.3,-.26,-.21,-.27,-.32,-.28,-.23,
     -.29,-.25,-.2,-.26,-.31,-.27,-.22,-.18, -.24,-.2,-.16,-.21,-.24,-.2,-.19,-.2],
    [0,-.07,-.13,-.18,-.14,-.2,-.26,-.22, -.28,-.34,-.3,-.36,-.32,-.27,-.33,-.29, -.35,-.41,-.37,-.32,-.38,-.34,-.4,-.45,
     -.41,-.36,-.42,-.38,-.33,-.39,-.35,-.41, -.46,-.42,-.37,-.43,-.39,-.34,-.4,-.36, -.42,-.38,-.33,-.39,-.35,-.41,-.37,-.32,
     -.38,-.34,-.29,-.35,-.31,-.37,-.33,-.28, -.34,-.3,-.26,-.31,-.34,-.3,-.29,-.3],
    [0,-.03,-.08,-.05,-.11,-.17,-.13,-.19, -.25,-.21,-.27,-.23,-.29,-.35,-.31,-.37, -.33,-.39,-.45,-.41,-.47,-.43,-.38,-.44,
     -.5,-.46,-.42,-.48,-.44,-.5,-.56,-.52, -.48,-.54,-.5,-.45,-.51,-.47,-.53,-.49, -.45,-.51,-.47,-.42,-.48,-.44,-.5,-.46,
     -.41,-.47,-.43,-.49,-.45,-.41,-.47,-.43, -.39,-.44,-.4,-.44,-.46,-.42,-.43,-.42],
    [0,-.06,-.12,-.18,-.24,-.28,-.34,-.4, -.44,-.48,-.52,-.56,-.6,-.64,-.68,-.71, -.74,-.75,-.76,-.75,-.74,-.74,-.73,-.7,
     -.67,-.64,-.6,-.62,-.65,-.63,-.6,-.58, -.62,-.66,-.63,-.6,-.64,-.68,-.65,-.61, -.58,-.62,-.66,-.62,-.58,-.55,-.59,-.63,
     -.6,-.56,-.6,-.64,-.6,-.56,-.52,-.56, -.6,-.57,-.53,-.56,-.58,-.55,-.56,-.55],
    [0,-.04,-.09,-.14,-.12,-.18,-.24,-.3, -.27,-.33,-.38,-.35,-.41,-.47,-.44,-.5, -.55,-.52,-.58,-.63,-.6,-.66,-.71,-.68,
     -.74,-.79,-.76,-.82,-.87,-.84,-.9,-.93, -.89,-.85,-.9,-.86,-.81,-.86,-.82,-.78, -.83,-.79,-.75,-.8,-.76,-.72,-.77,-.73,
     -.69,-.74,-.7,-.66,-.71,-.67,-.63,-.68, -.64,-.6,-.65,-.69,-.66,-.63,-.64,-.65],
    [0,-.08,-.05,-.11,-.17,-.14,-.2,-.16, -.22,-.28,-.25,-.31,-.37,-.34,-.3,-.36, -.42,-.39,-.45,-.51,-.48,-.44,-.5,-.56,
     -.53,-.59,-.55,-.51,-.57,-.63,-.6,-.66, -.62,-.58,-.64,-.7,-.67,-.63,-.69,-.75, -.71,-.67,-.73,-.79,-.76,-.72,-.78,-.74,
     -.7,-.76,-.82,-.78,-.74,-.8,-.76,-.72, -.78,-.74,-.7,-.75,-.79,-.76,-.74,-.75]
];

var modelSets = [modelX1, modelX2, modelX3];

var BLUE = 'rgb(30,144,255)';
var RED = 'rgb(220,20,60)';
var FONT = 'Liberation Serif';
var AXIS_COLOR = '#333';

var panelLeft = [71.7, 566, 1061];
var panelTop = 5;
var panelW = 413.3;
var panelH = 412.7;
var X_MIN = -3.15, X_MAX = 66.15;
var Y_MIN = -3.093, Y_MAX = 4.705;

var myChart = echarts.init(document.getElementById('main'));

function minusFmt(v) {
    return (v < 0 ? '\u2212' : '') + Math.abs(v);
}

function makeX(gi, pos, ticks, len, main, withLabel) {
    return {
        type: 'value', gridIndex: gi, position: pos, min: X_MIN, max: X_MAX,
        axisLine: {show: main, onZero: false, lineStyle: {color: AXIS_COLOR, width: 1}},
        axisTick: {show: true, inside: true, length: len, customValues: ticks,
            lineStyle: {color: AXIS_COLOR, width: 1}},
        axisLabel: {show: withLabel, customValues: xTicks, margin: 5, color: '#000',
            fontSize: 19, fontFamily: FONT},
        splitLine: {show: false},
        name: withLabel ? 't' : '',
        nameLocation: 'middle', nameGap: 26,
        nameTextStyle: {fontSize: 30, fontStyle: 'italic', fontFamily: FONT, color: '#000'}
    };
}

function makeY(gi, pos, ticks, len, main, withLabel) {
    return {
        type: 'value', gridIndex: gi, position: pos, min: Y_MIN, max: Y_MAX,
        axisLine: {show: main, onZero: false, lineStyle: {color: AXIS_COLOR, width: 1}},
        axisTick: {show: true, inside: true, length: len, customValues: ticks,
            lineStyle: {color: AXIS_COLOR, width: 1}},
        axisLabel: {show: withLabel, customValues: yTicks, margin: 8, color: '#000',
            fontSize: 19, fontFamily: FONT, formatter: minusFmt},
        splitLine: {show: false},
        name: withLabel ? '{x|X}{t|t}' : '',
        nameLocation: 'middle', nameGap: 42, nameRotate: 90,
        nameTextStyle: {
            color: '#000',
            rich: {
                x: {fontSize: 33, fontStyle: 'italic', fontFamily: FONT, color: '#000'},
                t: {fontSize: 22, fontStyle: 'italic', fontFamily: FONT, color: '#000', padding: [9, 0, 0, 1]}
            }
        }
    };
}

var grids = [], xAxes = [], yAxes = [], legends = [], series = [];

panelLeft.forEach(function (left, gi) {
    grids.push({left: left, top: panelTop, width: panelW, height: panelH, containLabel: false});

    xAxes.push(makeX(gi, 'bottom', xTicks, 5, true, true));
    xAxes.push(makeX(gi, 'bottom', xMinorTicks, 3, false, false));
    xAxes.push(makeX(gi, 'top', xTicks, 5, true, false));
    xAxes.push(makeX(gi, 'top', xMinorTicks, 3, false, false));

    yAxes.push(makeY(gi, 'left', yTicks, 5, true, true));
    yAxes.push(makeY(gi, 'left', yMinorTicks, 3, false, false));
    yAxes.push(makeY(gi, 'right', yTicks, 5, true, false));
    yAxes.push(makeY(gi, 'right', yMinorTicks, 3, false, false));

    legends.push({
        orient: 'vertical', left: left + 21.3, top: 25.5, padding: 0,
        itemWidth: 50, itemHeight: 1, itemGap: 10, icon: 'rect', selectedMode: false,
        data: [
            {name: 'true', itemStyle: {color: 'rgba(30,144,255,0.5)'}},
            {name: 'theta', itemStyle: {color: 'rgba(220,20,60,0.5)'}}
        ],
        formatter: function (name) {
            return name === 'true' ? '{p|\u2119}{s|X}{u|true}' : '{p|\u2119}{s|X}{th|\u03b8}';
        },
        textStyle: {
            color: '#000',
            rich: {
                p: {fontFamily: 'DejaVu Serif', fontSize: 23, color: '#000', padding: [0, 0, 0, 13]},
                s: {fontFamily: FONT, fontStyle: 'italic', fontSize: 16, color: '#000', padding: [12, 0, 0, 1]},
                u: {fontFamily: FONT, fontSize: 12, color: '#000', padding: [2, 0, 0, 1]},
                th: {fontFamily: FONT, fontStyle: 'italic', fontSize: 13, color: '#000', padding: [2, 0, 0, 1]}
            }
        }
    });

    trueX.forEach(function (path) {
        series.push({
            type: 'line', name: 'true', xAxisIndex: gi * 4, yAxisIndex: gi * 4,
            data: path.map(function (v, i) { return [T[i], v]; }),
            symbol: 'none', silent: true, color: BLUE,
            lineStyle: {color: BLUE, width: 0.9, opacity: 0.5}
        });
    });
    modelSets[gi].forEach(function (path) {
        series.push({
            type: 'line', name: 'theta', xAxisIndex: gi * 4, yAxisIndex: gi * 4,
            data: path.map(function (v, i) { return [T[i], v]; }),
            symbol: 'none', silent: true, color: RED,
            lineStyle: {color: RED, width: 1, opacity: 0.6}
        });
    });
});

var option = {
    backgroundColor: '#fff',
    animation: false,
    grid: grids,
    xAxis: xAxes,
    yAxis: yAxes,
    legend: legends,
    series: series
};
myChart.setOption(option);
</script>
</body>
</html>
